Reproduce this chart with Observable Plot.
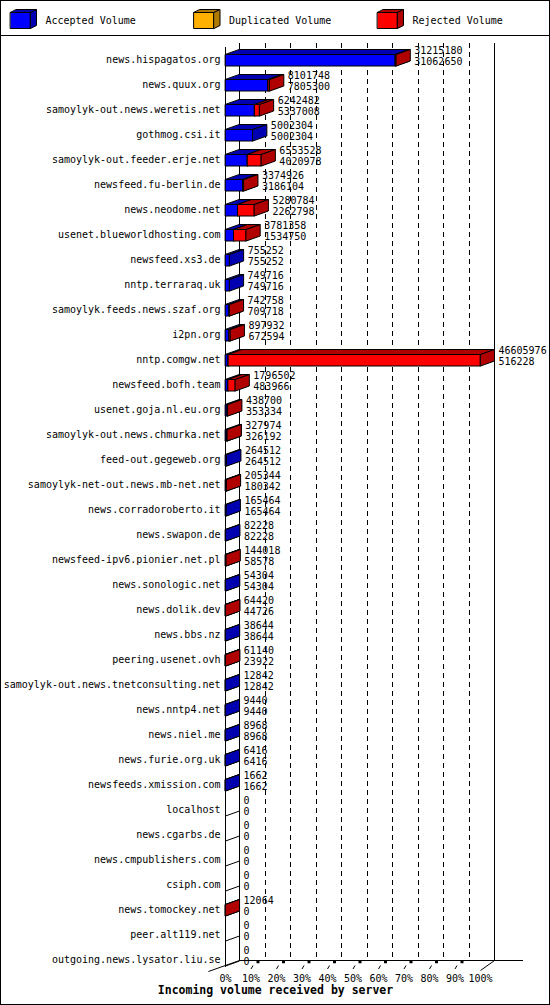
<!DOCTYPE html>
<html>
<head>
<meta charset="utf-8">
<script src="https://cdn.jsdelivr.net/npm/d3@7"></script>
<script src="https://cdn.jsdelivr.net/npm/@observablehq/plot@0.6"></script>
<style>
  body { margin: 0; background: #fff; }
  #frame { width: 548px; height: 1003px; border: 1px solid #000; overflow: hidden; background: #fff; }
  #legend { height: 34px; border-bottom: 1px solid #000; }
  svg { display: block; }
</style>
</head>
<body>
<div id="frame"><div id="legend"></div><div id="chart"></div></div>
<script>
// servers, top number = total volume, bottom number = accepted volume
const servers = [
  "news.hispagatos.org", "news.quux.org", "samoylyk-out.news.weretis.net", "gothmog.csi.it",
  "samoylyk-out.feeder.erje.net", "newsfeed.fu-berlin.de", "news.neodome.net",
  "usenet.blueworldhosting.com", "newsfeed.xs3.de", "nntp.terraraq.uk",
  "samoylyk.feeds.news.szaf.org", "i2pn.org", "nntp.comgw.net", "newsfeed.bofh.team",
  "usenet.goja.nl.eu.org", "samoylyk-out.news.chmurka.net", "feed-out.gegeweb.org",
  "samoylyk-net-out.news.mb-net.net", "news.corradoroberto.it", "news.swapon.de",
  "newsfeed-ipv6.pionier.net.pl", "news.sonologic.net", "news.dolik.dev", "news.bbs.nz",
  "peering.usenet.ovh", "samoylyk-out.news.tnetconsulting.net", "news.nntp4.net",
  "news.niel.me", "news.furie.org.uk", "newsfeeds.xmission.com", "localhost",
  "news.cgarbs.de", "news.cmpublishers.com", "csiph.com", "news.tomockey.net",
  "peer.alt119.net", "outgoing.news.lysator.liu.se"
];
const totalVolume = [
  31215180, 8101748, 6242482, 5002304, 6553528, 3374926, 5280784, 3781358, 755252, 749716,
  742758, 897932, 46605976, 1796502, 438700, 327974, 264512, 205344, 165464, 82228,
  144018, 54304, 64420, 38644, 61140, 12842, 9440, 8968, 6416, 1662,
  0, 0, 0, 0, 12064, 0, 0
];
const acceptedVolume = [
  31062650, 7805300, 5337008, 5002304, 4020978, 3186104, 2262798, 1534750, 755252, 749716,
  709718, 672594, 516228, 483966, 353334, 326192, 264512, 180342, 165464, 82228,
  58578, 54304, 44726, 38644, 23922, 12842, 9440, 8968, 6416, 1662,
  0, 0, 0, 0, 0, 0, 0
];
const duplicatedVolume = servers.map(() => 0);
const legendLabels = ["Accepted Volume", "Duplicated Volume", "Rejected Volume"];
const legendFront = ["#0000ff", "#ffb000", "#ff0000"];
const legendDark = ["#0000b0", "#b07a00", "#b00000"];
const percentTicks = [0, 10, 20, 30, 40, 50, 60, 70, 80, 90, 100];
const title = "Incoming volume received by server";

const font = "'DejaVu Sans Mono', 'Liberation Mono', monospace";

// ---- legend ----
const LW = 20 / 183.5, LDX = 6 / 183.5, LDY = 3 / 16;
const legendPolys = [];
legendLabels.forEach((lab, i) => {
  const x0 = i, x1 = i + LW;
  const faces = [
    [legendFront[i], [[x0, 0], [x1, 0], [x1, 1], [x0, 1]]],
    [legendDark[i], [[x0, 1], [x1, 1], [x1 + LDX, 1 + LDY], [x0 + LDX, 1 + LDY]]],
    [legendDark[i], [[x1, 0], [x1 + LDX, LDY], [x1 + LDX, 1 + LDY], [x1, 1]]]
  ];
  faces.forEach(([c, pts], k) => pts.forEach(([x, y]) => legendPolys.push({ id: `${i}-${k}`, x, y, c })));
});

document.getElementById("legend").append(
  Plot.plot({
    width: 548,
    height: 34,
    margin: 0,
    style: { fontFamily: font, fontSize: "10px", background: "transparent" },
    x: { domain: [0, 2], range: [9, 376], axis: null },
    y: { domain: [0, 1], range: [27, 11], axis: null },
    color: { type: "identity" },
    marks: [
      Plot.line(legendPolys, { x: "x", y: "y", z: "id", fill: "c", stroke: "#000", strokeWidth: 1, curve: "linear-closed" }),
      Plot.text(legendLabels, { x: (d, i) => i, y: 0.5, text: (d) => d, dx: 35, textAnchor: "start", fill: "#000" })
    ]
  })
);

// ---- bars ----
const maxTotal = d3.max(totalVolume);
const pct = (v) => (v / maxTotal) * 100;
const PX = 255 / 100;          // pixels per percent
const DX = 14 / PX, DY = -0.2; // 3d depth
const TOP = -0.2, BOT = 0.26;

const rows = servers.map((name, i) => ({
  name, i,
  total: totalVolume[i],
  accepted: acceptedVolume[i],
  duplicated: duplicatedVolume[i]
}));

const polys = [];
rows.forEach((r) => {
  const segs = [
    { x0: 0, x1: pct(r.accepted), front: legendFront[0], dark: legendDark[0] },
    { x0: pct(r.accepted), x1: pct(r.accepted + r.duplicated), front: legendFront[1], dark: legendDark[1] },
    { x0: pct(r.accepted + r.duplicated), x1: pct(r.total), front: legendFront[2], dark: legendDark[2] }
  ].filter((s) => s.x1 > s.x0);
  const t = r.i + TOP, b = r.i + BOT;
  segs.forEach((s, j) => {
    const faces = [
      [s.front, [[s.x0, t], [s.x1, t], [s.x1, b], [s.x0, b]]],
      [s.dark, [[s.x0, t], [s.x1, t], [s.x1 + DX, t + DY], [s.x0 + DX, t + DY]]],
      [s.dark, [[s.x1, t], [s.x1 + DX, t + DY], [s.x1 + DX, b + DY], [s.x1, b]]]
    ];
    faces.forEach(([c, pts], k) => pts.forEach(([x, y]) => polys.push({ id: `${r.i}-${j}-${k}`, x, y, c })));
  });
});

const FLOOR = 36.04, FRONT_FLOOR = 36.26;

document.getElementById("chart").append(
  Plot.plot({
    width: 548,
    height: 968,
    margin: 0,
    style: { fontFamily: font, fontSize: "10px", background: "transparent" },
    x: { domain: [0, 100], range: [224, 479], axis: null },
    y: { domain: [0, 36], range: [23, 923], axis: null },
    color: { type: "identity" },
    marks: [
      // back wall grid
      Plot.ruleX(percentTicks.slice(1, -1), { x: (d) => d + DX, y1: -0.64, y2: FLOOR, stroke: "#000", strokeDasharray: "5,4", shapeRendering: "crispEdges" }),
      Plot.ruleX([0, 100], { x: (d) => d + DX, y1: -0.64, y2: FLOOR, stroke: "#000", shapeRendering: "crispEdges" }),
      Plot.ruleY([FLOOR], { x1: DX, x2: 117, stroke: "#000", shapeRendering: "crispEdges" }),
      Plot.ruleX([0], { y1: -0.48, y2: 36.3, stroke: "#000", shapeRendering: "crispEdges" }),
      // floor edges
      Plot.link([0], { x1: -6.7, y1: 36.48, x2: DX, y2: FLOOR, stroke: "#000" }),
      Plot.link([100], { x1: (d) => d, y1: 36.44, x2: (d) => d + DX, y2: FLOOR, stroke: "#000" }),
      Plot.link(percentTicks.slice(1, -1), { x1: (d) => d, y1: 36.38, x2: (d) => d + 2 / PX, y2: 36.24, stroke: "#000" }),
      Plot.rect(percentTicks.slice(1, -1), { x1: (d) => d + 6 / PX, x2: (d) => d + 9 / PX, y1: 36.07, y2: 36.17, fill: "#000" }),
      // base line under each bar
      Plot.link(rows, { x1: 0, y1: (d) => d.i + BOT, x2: DX, y2: (d) => d.i + BOT + DY, stroke: "#000" }),
      // 3d bars
      Plot.line(polys, { x: "x", y: "y", z: "id", fill: "c", stroke: "#000", strokeWidth: 1, curve: "linear-closed" }),
      // server names
      Plot.text(rows, { x: 0, y: "i", text: "name", dx: -5, textAnchor: "end", fill: "#000" }),
      // totals and accepted
      Plot.text(rows, { x: (d) => pct(d.total) + DX, y: (d) => d.i - 0.34, text: (d) => String(d.total), dx: 4, textAnchor: "start", fill: "#000" }),
      Plot.text(rows, { x: (d) => pct(d.total) + DX, y: (d) => d.i + 0.1, text: (d) => String(d.accepted), dx: 4, textAnchor: "start", fill: "#000" }),
      // percent labels
      Plot.text(percentTicks, { x: (d) => d, y: 36.76, text: (d) => d + "%", fill: "#000" }),
      Plot.text([title], { frameAnchor: "bottom", dy: -11, fontWeight: "bold", fontSize: 11.5, fill: "#000" })
    ]
  })
);
</script>
</body>
</html>
